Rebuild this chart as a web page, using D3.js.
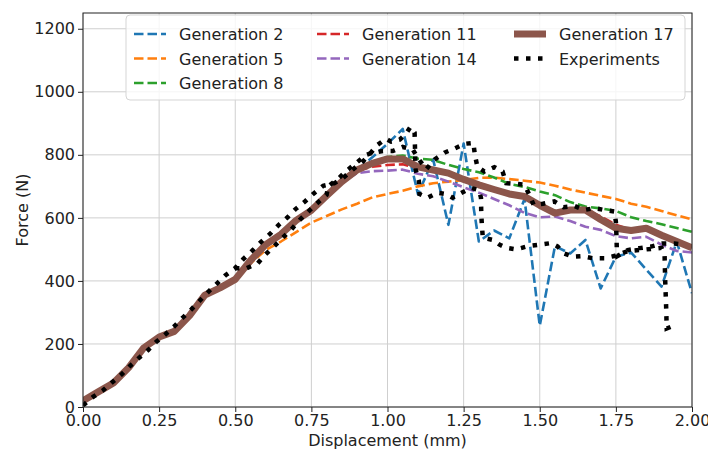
<!DOCTYPE html>
<html>
<head>
<meta charset="utf-8">
<script src="https://cdn.jsdelivr.net/npm/d3@7"></script>
<style>
  html, body { margin: 0; padding: 0; background: #fff; }
  svg { display: block; font-family: "DejaVu Sans", sans-serif; }
</style>
</head>
<body>
<svg id="chart" width="708" height="450"></svg>
<script>
// Simulated displacement grid (mm)
const displacement = [0.00,0.05,0.10,0.15,0.20,0.25,0.30,0.35,0.40,0.45,0.50,0.55,0.60,0.65,0.70,0.75,0.80,0.85,0.90,0.95,
  1.00,1.05,1.10,1.15,1.20,1.25,1.30,1.35,1.40,1.45,1.50,1.55,1.60,1.65,1.70,1.75,1.80,1.85,1.90,1.95,2.00];

// Simulated force (N) per generation
const gen2  = [20,48,76,125,188,222,240,290,355,378,405,465,515,548,592,624,670,715,752,792,
  835,882,675,785,578,836,525,560,535,660,258,510,487,530,376,477,490,436,382,525,361];
const gen5  = [20,48,76,125,188,222,240,290,355,375,400,455,498,525,555,585,606,627,645,665,
  676,686,700,710,715,720,727,728,723,718,712,702,690,680,670,660,645,635,622,608,595];
const gen8  = [20,48,76,125,188,222,240,290,355,378,405,465,515,548,592,624,670,715,752,775,
  793,798,788,784,768,755,745,728,708,698,684,672,650,636,630,622,602,590,580,568,556];
const gen11 = [20,48,76,125,188,222,240,290,355,378,405,465,515,548,592,624,670,715,750,762,
  768,770,758,752,742,722,705,690,676,668,640,615,625,625,605,578,562,567,545,525,505];
const gen14 = [20,48,76,125,188,222,240,290,355,378,405,465,515,548,592,624,670,712,742,748,
  750,753,740,732,715,697,680,660,640,616,602,604,590,572,562,542,535,540,515,495,490];
const gen17 = [20,48,76,125,188,222,240,290,355,378,405,465,515,548,592,624,670,715,752,773,
  787,787,762,752,742,722,705,690,676,668,640,615,625,625,595,567,560,567,545,525,505];

// Experimental records (two specimens)
const expA_x = [0.000,0.033,0.066,0.093,0.126,0.153,0.184,0.213,0.241,0.271,0.301,0.328,0.356,0.383,0.410,0.438,0.467,0.499,
  0.526,0.556,0.584,0.614,0.643,0.672,0.698,0.729,0.756,0.789,0.826,0.853,0.888,0.919,0.940,0.965,0.995,1.012,1.040,1.061,1.075,
  1.089,1.090,1.091,1.092,1.103,1.105,1.132,1.165,1.190,1.214,1.250,1.275,1.300,1.307,1.308,1.310,1.313,1.346,1.368,1.390,1.422,
  1.460,1.500,1.537,1.559,1.578,1.608,1.640,1.674,1.712,1.745,1.790,1.850,1.900,1.910,1.912,1.915,1.917,1.930,1.950];
const expA_y = [5,32,53,76,103,129,156,180,207,231,257,284,310,337,364,390,417,440,
  469,496,523,549,578,602,628,652,676,702,710,726,755,779,800,830,851,842,848,867,888,
  870,833,796,754,717,676,664,680,676,664,683,695,688,664,610,577,537,530,515,505,500,
  510,515,520,509,488,477,479,472,472,479,495,500,505,482,400,320,249,254,244];
const expB_x = [0.499,0.537,0.574,0.597,0.629,0.658,0.685,0.712,0.740,0.767,0.800,0.805,0.842,0.864,0.897,0.930,0.952,0.985,
  1.017,1.050,1.083,1.100,1.127,1.154,1.187,1.220,1.253,1.282,1.287,1.295,1.318,1.351,1.378,1.390,1.422,1.450,1.466,1.480,
  1.510,1.548,1.578,1.614,1.646,1.680,1.712,1.745,1.750,1.752,1.753,1.755,1.789,1.827,1.865,1.903,1.942,1.978];
const expB_y = [440,440,456,482,511,539,564,594,620,645,673,700,728,748,774,800,807,812,
  812,825,817,790,754,785,807,820,835,838,800,763,747,761,747,710,708,705,673,641,
  645,652,634,638,625,631,625,620,588,541,504,479,498,504,509,519,519,514];

const xTicks = [0.00,0.25,0.50,0.75,1.00,1.25,1.50,1.75,2.00];
const yTicks = [0,200,400,600,800,1000,1200];

const svg = d3.select("#chart");
const plot = { left: 83, right: 692, top: 13, bottom: 407 };

const x = d3.scaleLinear().domain([0, 2]).range([plot.left, plot.right]);
const y = d3.scaleLinear().domain([0, 1250]).range([plot.bottom, plot.top]);

svg.append("defs").append("clipPath").attr("id", "plotClip")
  .append("rect")
  .attr("x", plot.left).attr("y", plot.top)
  .attr("width", plot.right - plot.left).attr("height", plot.bottom - plot.top);

// Grid
const grid = svg.append("g").attr("stroke", "#cfcfcf").attr("stroke-width", 1);
xTicks.forEach(t => grid.append("line")
  .attr("x1", x(t)).attr("x2", x(t)).attr("y1", plot.top).attr("y2", plot.bottom));
yTicks.forEach(t => grid.append("line")
  .attr("x1", plot.left).attr("x2", plot.right).attr("y1", y(t)).attr("y2", y(t)));

// Series
const series = [
  { name: "Generation 2",  data: gen2,  color: "#1f77b4", width: 2.6, dash: "9.5,4" },
  { name: "Generation 5",  data: gen5,  color: "#ff7f0e", width: 2.6, dash: "9.5,4" },
  { name: "Generation 8",  data: gen8,  color: "#2ca02c", width: 2.6, dash: "9.5,4" },
  { name: "Generation 11", data: gen11, color: "#d62728", width: 2.6, dash: "9.5,4" },
  { name: "Generation 14", data: gen14, color: "#9467bd", width: 2.6, dash: "9.5,4" },
  { name: "Generation 17", data: gen17, color: "#8c564b", width: 7,   dash: null }
];

const line = d3.line().x(d => x(d[0])).y(d => y(d[1]));
const lines = svg.append("g").attr("clip-path", "url(#plotClip)");

series.forEach(s => {
  lines.append("path")
    .datum(displacement.map((d, i) => [d, s.data[i]]))
    .attr("d", line)
    .attr("fill", "none")
    .attr("stroke", s.color)
    .attr("stroke-width", s.width)
    .attr("stroke-dasharray", s.dash)
    .attr("stroke-linejoin", "round");
});

const expStyle = { color: "#000", width: 4.5, dash: "4.5,7.5" };
[[expA_x, expA_y], [expB_x, expB_y]].forEach(([xs, ys]) => {
  lines.append("path")
    .datum(xs.map((d, i) => [d, ys[i]]))
    .attr("d", line)
    .attr("fill", "none")
    .attr("stroke", expStyle.color)
    .attr("stroke-width", expStyle.width)
    .attr("stroke-dasharray", expStyle.dash);
});

// Axes
const xAxis = d3.axisBottom(x).tickValues(xTicks).tickFormat(d3.format(".2f")).tickSize(5).tickPadding(3);
const yAxis = d3.axisLeft(y).tickValues(yTicks).tickFormat(d3.format("d")).tickSize(5).tickPadding(3);

const gx = svg.append("g").attr("transform", `translate(0,${plot.bottom})`).call(xAxis);
const gy = svg.append("g").attr("transform", `translate(${plot.left},0)`).call(yAxis);
[gx, gy].forEach(g => {
  g.select(".domain").remove();
  g.selectAll(".tick line").attr("stroke", "#222").attr("stroke-width", 1);
  g.selectAll(".tick text").attr("fill", "#222").style("font-size", "16px")
    .style("font-family", "'DejaVu Sans', sans-serif");
});

// Frame
svg.append("rect")
  .attr("x", plot.left).attr("y", plot.top)
  .attr("width", plot.right - plot.left).attr("height", plot.bottom - plot.top)
  .attr("fill", "none").attr("stroke", "#222").attr("stroke-width", 1);

// Axis titles
svg.append("text")
  .attr("x", (plot.left + plot.right) / 2).attr("y", 446)
  .attr("text-anchor", "middle").attr("fill", "#222").style("font-size", "16px")
  .text("Displacement (mm)");
svg.append("text")
  .attr("transform", `translate(28,${(plot.top + plot.bottom) / 2}) rotate(-90)`)
  .attr("text-anchor", "middle").attr("fill", "#222").style("font-size", "16px")
  .text("Force (N)");

// Legend
const legend = svg.append("g");
legend.append("rect")
  .attr("x", 126).attr("y", 15).attr("width", 559).attr("height", 85).attr("rx", 4)
  .attr("fill", "#fff").attr("fill-opacity", 0.8)
  .attr("stroke", "#d5d5d5").attr("stroke-width", 1);

const legendItems = [
  { s: series[0], col: 0, row: 0 },
  { s: series[1], col: 0, row: 1 },
  { s: series[2], col: 0, row: 2 },
  { s: series[3], col: 1, row: 0 },
  { s: series[4], col: 1, row: 1 },
  { s: series[5], col: 2, row: 0 },
  { s: { name: "Experiments", color: expStyle.color, width: expStyle.width, dash: expStyle.dash }, col: 2, row: 1 }
];
const colX = [134, 317, 514];
const rowY = [34, 58.5, 83];
legendItems.forEach(it => {
  const lx = colX[it.col], ly = rowY[it.row];
  legend.append("line")
    .attr("x1", lx).attr("x2", lx + 32).attr("y1", ly).attr("y2", ly)
    .attr("stroke", it.s.color).attr("stroke-width", it.s.width)
    .attr("stroke-dasharray", it.s.dash);
  legend.append("text")
    .attr("x", lx + 45).attr("y", ly + 6)
    .attr("fill", "#222").style("font-size", "16px")
    .text(it.s.name);
});
</script>
</body>
</html>
